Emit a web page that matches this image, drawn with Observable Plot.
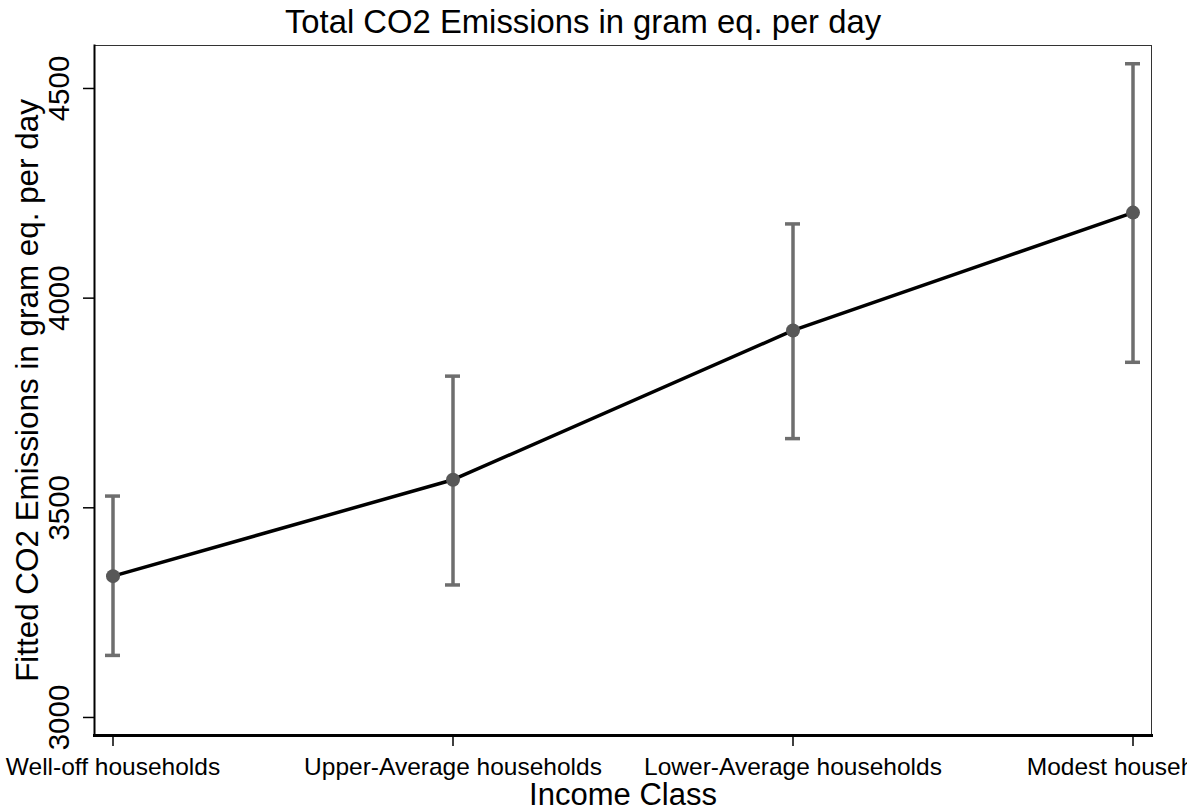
<!DOCTYPE html>
<html><head><meta charset="utf-8">
<script src="https://cdn.jsdelivr.net/npm/d3@7"></script>
<script src="https://cdn.jsdelivr.net/npm/@observablehq/plot@0.6"></script>
<style>html,body{margin:0;padding:0;background:#fff;overflow:hidden}</style>
</head><body><div id="chart"></div>
<script>
const categories = ["Well-off households", "Upper-Average households", "Lower-Average households", "Modest households"];
const fitted = [3337, 3567, 3923, 4204];
const lower = [3148, 3316, 3665, 3847];
const upper = [3528, 3814, 4177, 4559];
const yTicks = [3000, 3500, 4000, 4500];
const titleText = "Total CO2 Emissions in gram eq. per day";
const yLabel = "Fitted CO2 Emissions in gram eq. per day";
const xLabel = "Income Class";

const data = categories.map((c, i) => ({cls: c, y: fitted[i], lo: lower[i], hi: upper[i]}));
const font = "'Liberation Sans', Arial, sans-serif";
const barColor = "#6e6e6e";

const chart = Plot.plot({
  width: 1187, height: 808,
  marginTop: 45, marginBottom: 73, marginLeft: 94, marginRight: 36,
  style: {fontFamily: font, background: "#fff", color: "#000"},
  x: {type: "band", domain: categories, paddingInner: 0.956, paddingOuter: 0.0324, axis: null},
  y: {domain: [2957, 4602.5], axis: null},
  marks: [
    Plot.frame({stroke: "#333", strokeWidth: 1}),
    Plot.frame({anchor: "left", stroke: "#000", strokeWidth: 2}),
    Plot.frame({anchor: "bottom", stroke: "#000", strokeWidth: 3}),
    Plot.axisX({tickSize: 11, tickPadding: 10.6, fontSize: 24.5, label: null, color: "#000", strokeWidth: 1.5}),
    Plot.axisY({ticks: yTicks, tickFormat: d => String(d), tickSize: 11, tickPadding: 15, tickRotate: -90, fontSize: 29.5, label: null, color: "#000", strokeWidth: 1.5}),
    Plot.ruleX(data, {x: "cls", y1: "lo", y2: "hi", stroke: barColor, strokeWidth: 3.5}),
    Plot.tickY(data, {x: "cls", y: "hi", stroke: barColor, strokeWidth: 3.5}),
    Plot.tickY(data, {x: "cls", y: "lo", stroke: barColor, strokeWidth: 3.5}),
    Plot.line(data, {x: "cls", y: "y", stroke: "#000", strokeWidth: 3.5}),
    Plot.dot(data, {x: "cls", y: "y", r: 7, fill: "#585858", stroke: "none"}),
    Plot.text([titleText], {frameAnchor: "top", dx: -40, dy: -13, lineAnchor: "bottom", fontSize: 32.8, fill: "#000"}),
    Plot.text([yLabel], {frameAnchor: "left", textAnchor: "middle", rotate: -90, dx: -57, lineAnchor: "bottom", fontSize: 31.4, fill: "#000"}),
    Plot.text([xLabel], {frameAnchor: "bottom", dy: 69, lineAnchor: "bottom", fontSize: 31, fill: "#000"})
  ]
});
document.getElementById("chart").appendChild(chart);
</script>
</body></html>
